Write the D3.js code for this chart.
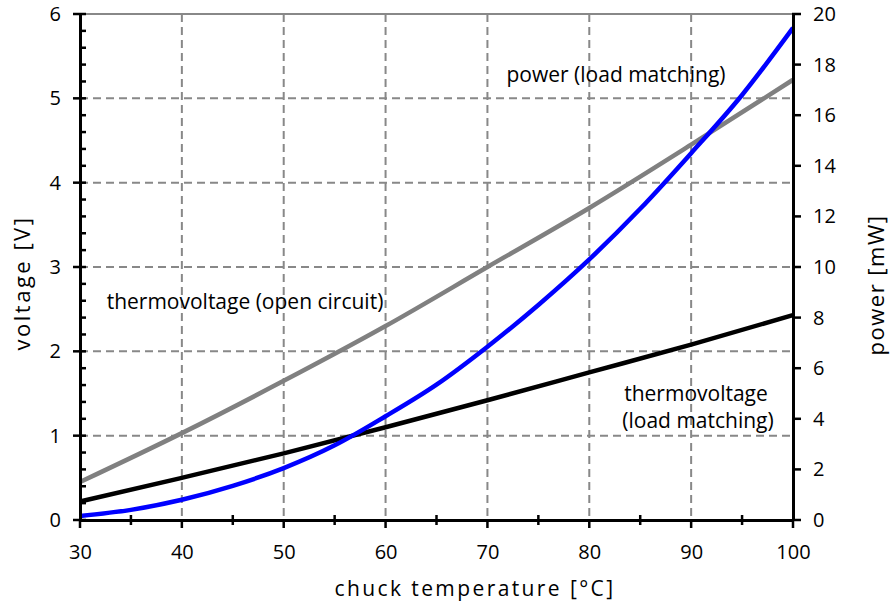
<!DOCTYPE html>
<html><head><meta charset="utf-8">
<script src="https://cdn.jsdelivr.net/npm/d3@7"></script>
<style>body{margin:0;background:#fff}text{font-family:"Open Sans","DejaVu Sans",sans-serif;fill:#000}</style>
</head><body><svg id="c" width="893" height="605"></svg>
<script>
const tempsV = [30, 40, 50, 60, 70, 80, 90, 100];
const openCircuitV = [0.45, 1.03, 1.65, 2.3, 3.0, 3.7, 4.45, 5.22];
const loadMatchV = [0.22, 0.5, 0.79, 1.1, 1.42, 1.75, 2.08, 2.43];
const tempsP = [30, 35, 40, 45, 50, 55, 60, 65, 70, 75, 80, 85, 90, 95, 100];
const powerMW = [0.16, 0.4, 0.8, 1.35, 2.05, 2.95, 4.1, 5.35, 6.85, 8.5, 10.3, 12.3, 14.5, 16.8, 19.45];
const xTicks = [30, 40, 50, 60, 70, 80, 90, 100];
const yTicks = [0, 1, 2, 3, 4, 5, 6];
const y2Ticks = [0, 2, 4, 6, 8, 10, 12, 14, 16, 18, 20];

const svg = d3.select("#c");
const L = 80, R = 793, T = 14, B = 520;
const x = d3.scaleLinear().domain([30, 100]).range([L, R]);
const y = d3.scaleLinear().domain([0, 6]).range([B, T]);
const y2 = d3.scaleLinear().domain([0, 20]).range([B, T]);

// grid
const g = svg.append("g");
xTicks.filter(t => t > 30 && t < 100).forEach(t => {
  g.append("line").attr("x1", x(t)).attr("x2", x(t)).attr("y1", T).attr("y2", B)
    .attr("stroke", "#888").attr("stroke-width", 2).attr("stroke-dasharray", "8,5");
});
yTicks.filter(t => t > 0 && t < 6).forEach(t => {
  g.append("line").attr("x1", L).attr("x2", R).attr("y1", y(t)).attr("y2", y(t))
    .attr("stroke", "#888").attr("stroke-width", 2).attr("stroke-dasharray", "8,5");
});
g.append("line").attr("x1", L).attr("x2", R).attr("y1", y(6)).attr("y2", y(6))
  .attr("stroke", "#888").attr("stroke-width", 2);

// series
const lineV = d3.line().x(d => x(d[0])).y(d => y(d[1])).curve(d3.curveMonotoneX);
const lineP = d3.line().x(d => x(d[0])).y(d => y2(d[1])).curve(d3.curveMonotoneX);
svg.append("path").attr("d", lineV(d3.zip(tempsV, openCircuitV))).attr("fill", "none").attr("stroke", "#808080").attr("stroke-width", 4.5);
svg.append("path").attr("d", lineV(d3.zip(tempsV, loadMatchV))).attr("fill", "none").attr("stroke", "#000").attr("stroke-width", 4.5);
svg.append("path").attr("d", lineP(d3.zip(tempsP, powerMW))).attr("fill", "none").attr("stroke", "#0000ff").attr("stroke-width", 4.5);

// axes
const fs = "20px";
const fmt = d3.format("d");
const ax = svg.append("g").attr("transform", `translate(0,${B})`)
  .call(d3.axisBottom(x).tickValues(xTicks).tickFormat(fmt).tickSize(0).tickPadding(25));
const ay = svg.append("g").attr("transform", `translate(${L},0)`)
  .call(d3.axisLeft(y).tickValues(yTicks).tickFormat(fmt).tickSize(0).tickPadding(19));
const ay2 = svg.append("g").attr("transform", `translate(${R},0)`)
  .call(d3.axisRight(y2).tickValues(y2Ticks).tickFormat(fmt).tickSize(0).tickPadding(20));
[ax, ay, ay2].forEach(a => {
  a.select(".domain").attr("stroke", "#000").attr("stroke-width", 3);
  a.selectAll("text").style("font-size", fs).attr("fill", "#000");
});
// tick marks
const tk = svg.append("g").attr("stroke", "#000").attr("stroke-width", 2.5);
xTicks.forEach(t => tk.append("line").attr("x1", x(t)).attr("x2", x(t)).attr("y1", B - 1).attr("y2", B + 8));
d3.range(35, 100, 10).forEach(t => tk.append("line").attr("x1", x(t)).attr("x2", x(t)).attr("y1", B - 5).attr("y2", B + 5));
yTicks.forEach(t => tk.append("line").attr("x1", L - 7).attr("x2", L + 6).attr("y1", y(t)).attr("y2", y(t)));
d3.range(0, 6.01, 0.2).filter(v => Math.abs(v - Math.round(v)) > 0.01).forEach(v =>
  tk.append("line").attr("x1", L).attr("x2", L + 6).attr("y1", y(v)).attr("y2", y(v)));
y2Ticks.forEach(t => tk.append("line").attr("x1", R - 1).attr("x2", R + 8).attr("y1", y2(t)).attr("y2", y2(t)));

// axis titles
svg.append("text").attr("x", 475).attr("y", 596).attr("text-anchor", "middle").style("font-size", "21px").style("letter-spacing", "2.4px").text("chuck temperature [°C]");
svg.append("text").attr("transform", "translate(30,283) rotate(-90)").attr("text-anchor", "middle").style("font-size", "22px").style("letter-spacing", "2.5px").text("voltage [V]");
svg.append("text").attr("transform", "translate(884,285) rotate(-90)").attr("text-anchor", "middle").style("font-size", "22px").style("letter-spacing", "1.5px").text("power [mW]");

// annotations
const ann = [
  {t: "power (load matching)", x: 616, y: 82},
  {t: "thermovoltage (open circuit)", x: 245, y: 309},
  {t: "thermovoltage", x: 696, y: 401},
  {t: "(load matching)", x: 698, y: 428}
];
ann.forEach(a => svg.append("text").attr("x", a.x).attr("y", a.y).attr("text-anchor", "middle").style("font-size", "21px").text(a.t));
</script></body></html>
